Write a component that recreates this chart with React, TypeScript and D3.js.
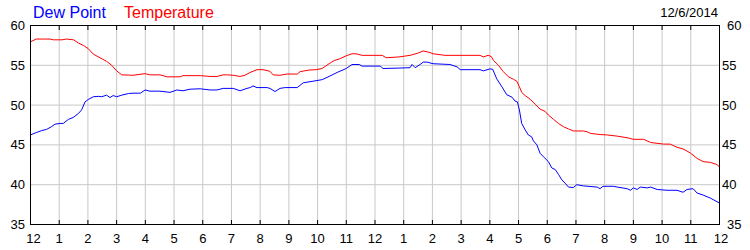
import React from "react";
import * as d3 from "d3";

const hourTicks = d3.range(0, 25);
const hourLabels = ["12","1","2","3","4","5","6","7","8","9","10","11","12","1","2","3","4","5","6","7","8","9","10","11","12"];
const yTicks = [35, 40, 45, 50, 55, 60];
const dateLabel = "12/6/2014";

const tempHours = [0,0.2,0.68,0.8,1.1,1.25,1.5,1.67,1.84,2.01,2.19,2.42,2.65,2.83,3.0,3.18,3.57,3.99,4.16,4.51,4.76,5.21,5.31,5.91,6.25,6.5,6.71,6.85,7.06,7.3,7.47,7.65,7.89,8.1,8.34,8.45,8.69,8.94,9.29,9.39,9.7,9.95,10.16,10.4,10.58,10.76,11.0,11.2,11.34,11.55,12.25,12.39,12.83,13.22,13.47,13.68,13.92,14.02,14.44,15.66,15.77,15.94,16.05,16.13,16.3,16.47,16.65,16.82,16.94,17.03,17.11,17.23,17.4,17.58,17.75,17.93,18.04,18.22,18.39,18.56,18.74,18.91,19.26,19.39,19.5,19.84,20.09,20.44,20.78,21.0,21.36,21.6,22.05,22.28,22.52,22.73,22.98,23.22,23.43,23.69,23.93,24];
const tempValues = [57.95,58.3,58.3,58.2,58.2,58.3,58.2,57.8,57.5,57.1,56.4,55.95,55.5,55.0,54.3,53.8,53.75,53.95,53.8,53.8,53.55,53.55,53.7,53.7,53.6,53.6,53.8,53.8,53.75,53.6,53.75,54.1,54.45,54.45,54.25,53.8,53.75,53.9,53.9,54.2,54.4,54.45,54.6,55.2,55.6,55.8,56.2,56.45,56.45,56.25,56.25,55.95,56.05,56.25,56.5,56.8,56.6,56.45,56.25,56.25,56.05,56.25,56.1,55.6,55.0,54.2,53.55,53.25,53.0,52.3,51.6,51.2,50.75,50.1,49.5,49.2,48.75,48.2,47.7,47.3,47.0,46.75,46.75,46.65,46.45,46.3,46.25,46.1,45.9,45.7,45.7,45.3,45.1,45.1,44.7,44.5,44.0,43.3,42.9,42.8,42.5,42.2];

const dewHours = [0,0.2,0.39,0.56,0.74,0.85,1.03,1.14,1.32,1.49,1.67,1.78,1.9,2.01,2.19,2.36,2.48,2.65,2.77,2.88,3.0,3.18,3.41,3.57,3.83,3.99,4.16,4.51,4.86,5.1,5.31,5.56,5.91,6.25,6.5,6.71,7.06,7.3,7.54,7.65,7.75,7.89,8.24,8.34,8.52,8.69,8.87,9.29,9.5,9.84,10.16,10.4,10.68,11.0,11.2,11.45,11.55,12.18,12.28,12.83,13.22,13.29,13.4,13.57,13.68,13.82,14.02,14.61,14.86,14.97,15.66,15.77,16.01,16.1,16.24,16.42,16.59,16.77,16.88,16.96,17.03,17.11,17.23,17.34,17.46,17.52,17.64,17.75,17.87,18.04,18.16,18.28,18.39,18.51,18.62,18.74,18.91,19.03,19.26,19.74,19.84,19.94,20.3,20.44,20.78,20.9,21.0,21.13,21.24,21.48,21.6,21.83,22.17,22.52,22.73,22.87,23.08,23.22,23.43,23.69,24];
const dewValues = [46.25,46.55,46.8,46.95,47.3,47.6,47.7,47.7,48.2,48.45,48.95,49.4,50.4,50.7,51.05,51.1,51.05,51.25,50.95,51.2,51.05,51.25,51.45,51.5,51.5,51.9,51.75,51.75,51.6,51.9,51.8,52.0,52.05,51.9,51.9,52.1,52.1,51.8,52.1,52.2,52.4,52.2,52.2,52.1,51.7,52.1,52.2,52.2,52.8,53.0,53.2,53.6,54.1,54.6,55.1,55.1,54.9,54.9,54.6,54.65,54.7,55.1,54.7,55.1,55.4,55.4,55.2,55.1,54.8,54.45,54.45,54.3,54.55,54.5,53.3,52.3,51.3,51.0,50.5,50.4,49.4,47.7,46.9,46.25,46.0,45.5,45.0,43.95,43.5,42.9,42.1,41.9,41.3,40.6,40.2,39.7,39.65,40.0,39.85,39.7,39.5,39.8,39.8,39.7,39.5,39.3,39.6,39.4,39.7,39.6,39.7,39.4,39.3,39.3,39.05,39.4,39.5,38.95,38.7,38.3,37.7];

const W = 750, H = 250;
const L = 30.5, R = 719.5, T = 25.5, B = 224.5;
const FONT = "'Liberation Sans', Arial, sans-serif";

export default function App() {
  const x = d3.scaleLinear().domain([0, 24]).range([L, R]);
  const y = d3.scaleLinear().domain([35, 60]).range([B, T]);
  const line = d3.line<[number, number]>().x(d => x(d[0])).y(d => y(d[1]));
  const tempData = tempHours.map((h, i) => [h, tempValues[i]] as [number, number]);
  const dewData = dewHours.map((h, i) => [h, dewValues[i]] as [number, number]);

  return (
    <svg width={W} height={H} style={{ position: "absolute", left: 0, top: 0, background: "#fff" }} fontFamily={FONT}>
      <rect x={0} y={0} width={W} height={H} fill="#fff" />
      {hourTicks.slice(1, -1).map(h => (
        <line key={"vg" + h} x1={x(h)} x2={x(h)} y1={T} y2={B} stroke="#c8c8c8" strokeWidth={1} />
      ))}
      {yTicks.slice(1, -1).map(v => (
        <line key={"hg" + v} x1={L} x2={R} y1={y(v)} y2={y(v)} stroke="#c8c8c8" strokeWidth={1} />
      ))}
      <path d={line(dewData) || ""} fill="none" stroke="#0000ff" strokeWidth={1} />
      <path d={line(tempData) || ""} fill="none" stroke="#ff0000" strokeWidth={1} />
      <rect x={L} y={T} width={R - L} height={B - T} fill="none" stroke="#000" strokeWidth={1} />
      {hourTicks.map(h => (
        <g key={"t" + h}>
          <line x1={x(h)} x2={x(h)} y1={T} y2={T + 4.5} stroke="#000" />
          <line x1={x(h)} x2={x(h)} y1={B - 4.5} y2={B} stroke="#000" />
          <text x={x(h) + (h === 0 ? 3 : h === 24 ? 1.5 : 0)} y={243} textAnchor="middle" fontSize={13} fill="#000">{hourLabels[h]}</text>
        </g>
      ))}
      {yTicks.map(v => (
        <g key={"yl" + v}>
          <text x={25} y={y(v) + 4.5} textAnchor="end" fontSize={13} fill="#000">{v}</text>
          <text x={v === 60 || v === 35 ? 727 : 722} y={y(v) + 4.5} textAnchor="start" fontSize={13} fill="#000">{v}</text>
        </g>
      ))}
      <text x={33} y={17.5} fontSize={16} fill="#0000ff">Dew Point</text>
      <text x={124} y={17.5} fontSize={16} fill="#ff0000">Temperature</text>
      <text x={718} y={16.7} fontSize={13} textAnchor="end" fill="#000">{dateLabel}</text>
    </svg>
  );
}
